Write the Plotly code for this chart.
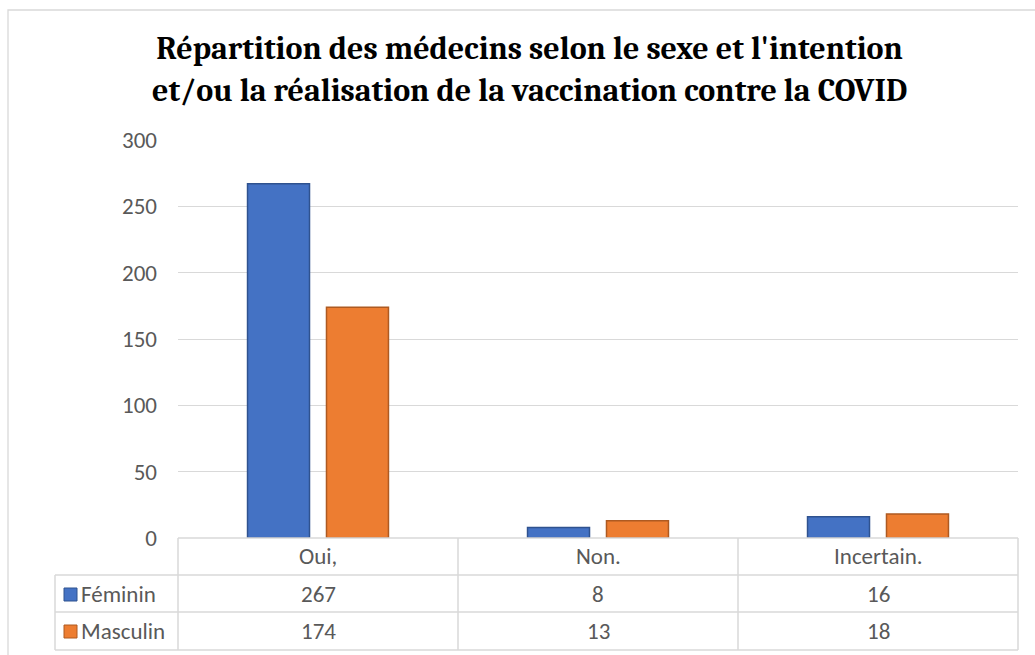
import plotly.graph_objects as go

# Data
categories = ["Oui,", "Non.", "Incertain."]
series_names = ["Féminin", "Masculin"]
feminin = [267, 8, 16]
masculin = [174, 13, 18]
y_ticks = [0, 50, 100, 150, 200, 250, 300]

title_text = ("Répartition des médecins selon le sexe et l'intention<br>"
              "et/ou la réalisation de la vaccination contre la COVID")

colors = ["#4472C4", "#ED7D31"]
edge_colors = ["#2F528F", "#AE5A21"]

W, H = 1035, 655
PL, PR, PT, PB = 178, 1018, 140, 538  # plot area in pixels

def fx(p):
    """pixel x -> paper x"""
    return (p - PL) / (PR - PL)

def fy(p):
    """pixel y -> paper y"""
    return (PB - p) / (PB - PT)

grid_col = "#D9D9D9"
text_col = "#595959"
font_fam = "Calibri, Carlito, Lato, 'Open Sans', sans-serif"
FS = 23

fig = go.Figure()
for name, vals, c, ec in zip(series_names, [feminin, masculin], colors, edge_colors):
    fig.add_trace(go.Bar(
        x=categories, y=vals, name=name,
        marker=dict(color=c, line=dict(color=ec, width=1.5)),
        showlegend=False, hoverinfo="x+y+name",
    ))

shapes = []
annotations = []

# outer chart border
shapes.append(dict(type="rect", xref="paper", yref="paper",
                   x0=fx(8), x1=fx(1045), y0=fy(665), y1=fy(10),
                   line=dict(color=grid_col, width=1.3), layer="below"))

# data table grid
row_lines = [538, 575, 612, 650]
shapes.append(dict(type="line", xref="paper", yref="paper",
                   x0=fx(PL), x1=fx(PR), y0=fy(row_lines[0]), y1=fy(row_lines[0]),
                   line=dict(color=grid_col, width=1.5)))
for yy in row_lines[1:]:
    shapes.append(dict(type="line", xref="paper", yref="paper",
                       x0=fx(55), x1=fx(PR), y0=fy(yy), y1=fy(yy),
                       line=dict(color=grid_col, width=1.5)))
shapes.append(dict(type="line", xref="paper", yref="paper",
                   x0=fx(55), x1=fx(55), y0=fy(575), y1=fy(650),
                   line=dict(color=grid_col, width=1.5)))
n = len(categories)
for i in range(n + 1):
    xx = PL + (PR - PL) * i / n
    shapes.append(dict(type="line", xref="paper", yref="paper",
                       x0=fx(xx), x1=fx(xx), y0=fy(538), y1=fy(650),
                       line=dict(color=grid_col, width=1.5)))

# category headers and values in the table
row_centers = [594, 631]
cell_font = dict(family=font_fam, size=FS, color=text_col)
for i, cat in enumerate(categories):
    annotations.append(dict(x=cat, xref="x", y=fy(556), yref="paper",
                            text=cat, showarrow=False,
                            xanchor="center", yanchor="middle", font=cell_font))
    for r, vals in enumerate([feminin, masculin]):
        annotations.append(dict(x=cat, xref="x", y=fy(row_centers[r]), yref="paper",
                                text=str(vals[i]), showarrow=False,
                                xanchor="center", yanchor="middle", font=cell_font))

# series keys and names in the table
for r, (name, c, ec) in enumerate(zip(series_names, colors, edge_colors)):
    cy = row_centers[r]
    shapes.append(dict(type="rect", xref="paper", yref="paper",
                       x0=fx(64), x1=fx(77), y0=fy(cy + 7), y1=fy(cy - 6),
                       fillcolor=c, line=dict(color=ec, width=1)))
    annotations.append(dict(x=fx(79), xref="paper", y=fy(cy), yref="paper",
                            text=name, showarrow=False,
                            xanchor="left", yanchor="middle", font=cell_font))

# title
annotations.append(dict(x=fx(529), xref="paper", y=fy(69), yref="paper",
                        text="<b>" + title_text + "</b>", showarrow=False,
                        xanchor="center", yanchor="middle",
                        font=dict(family="Cambria, 'Liberation Serif', 'DejaVu Serif', serif",
                                  size=32, color="#000000")))

fig.update_layout(
    width=W, height=H,
    margin=dict(l=PL, r=W - PR, t=PT, b=H - PB, pad=0),
    paper_bgcolor="white", plot_bgcolor="white",
    barmode="group", bargap=0.436, bargroupgap=0.215,
    shapes=shapes, annotations=annotations,
    xaxis=dict(showticklabels=False, showgrid=False, zeroline=False,
               showline=False, ticks=""),
    yaxis=dict(range=[0, 300], tickvals=y_ticks, showgrid=True,
               gridcolor=grid_col, gridwidth=1.3, zeroline=False,
               showline=False, ticks="", ticklabelstandoff=20,
               tickfont=dict(family=font_fam, size=FS, color=text_col)),
)

fig.write_html("out.html")
